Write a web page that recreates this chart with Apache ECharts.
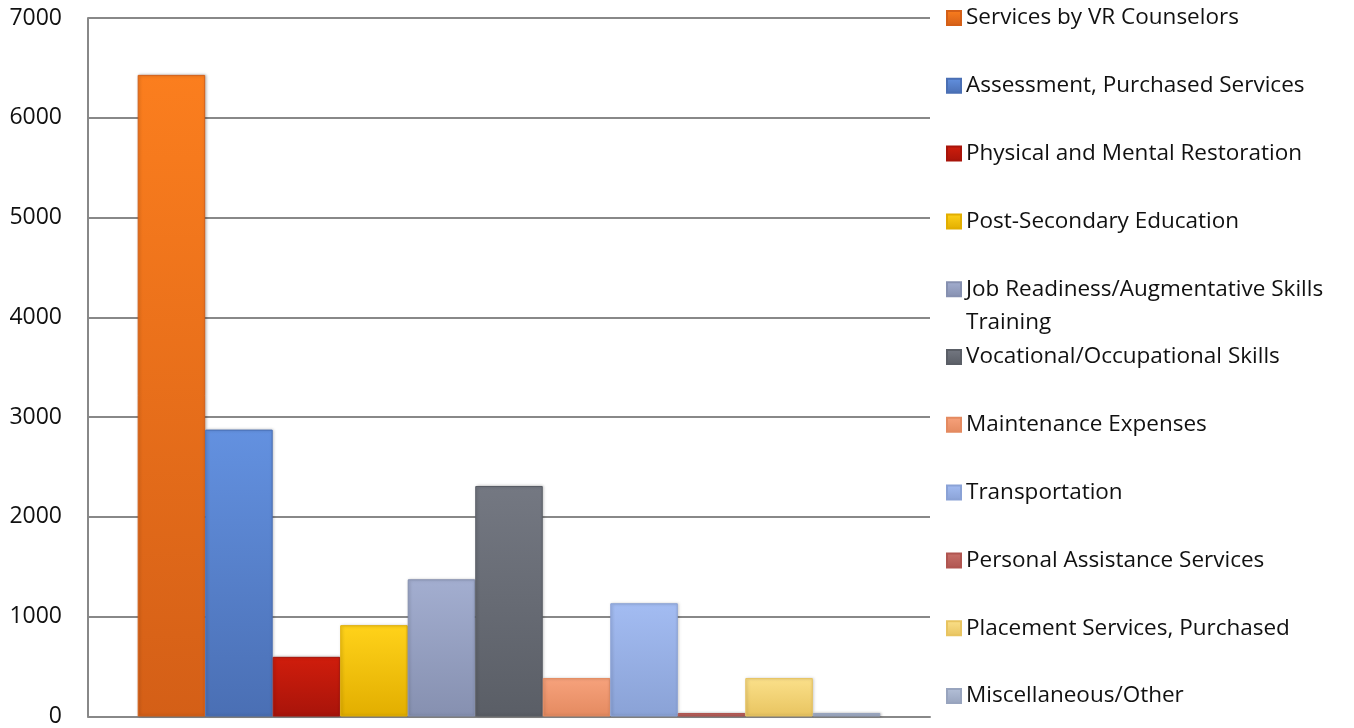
<!DOCTYPE html>
<html>
<head>
<meta charset="utf-8">
<script src="https://cdn.jsdelivr.net/npm/echarts@6/dist/echarts.min.js"></script>
<style>
  html, body { margin: 0; padding: 0; background: #fff; }
  #main { width: 1354px; height: 728px; }
</style>
</head>
<body>
<div id="main"></div>
<script>
// data
var seriesNames = [
  'Services by VR Counselors',
  'Assessment, Purchased Services',
  'Physical and Mental Restoration',
  'Post-Secondary Education',
  'Job Readiness/Augmentative Skills\nTraining',
  'Vocational/Occupational Skills',
  'Maintenance Expenses',
  'Transportation',
  'Personal Assistance Services',
  'Placement Services, Purchased',
  'Miscellaneous/Other'
];
var seriesValues = [6430, 2875, 598, 915, 1375, 2310, 385, 1135, 35, 385, 35];
var yTicks = [0, 1000, 2000, 3000, 4000, 5000, 6000, 7000];

// top / bottom colours of each bar (gradient)
var topColors = ['#FB7E1E', '#6391E0', '#D01D0C', '#FFD21A', '#A3AED0', '#747882', '#F7A27C', '#A3BCF2', '#C8706A', '#FBE08A', '#B4C0D8'];
var botColors = ['#D45F17', '#4A6FB4', '#A8140A', '#E2AE00', '#8690B0', '#5A5E66', '#E48A60', '#8AA2D6', '#B05550', '#E8C460', '#98A4BE'];

var fontFamily = '"Open Sans", Lato, sans-serif';

var chart = echarts.init(document.getElementById('main'));

var series = seriesNames.map(function (name, i) {
  return {
    name: name,
    type: 'bar',
    data: [seriesValues[i]],
    barGap: '0%',
    barCategoryGap: '11.8%',
    itemStyle: {
      color: new echarts.graphic.LinearGradient(0, 0, 0, 1, [
        { offset: 0, color: topColors[i] },
        { offset: 1, color: botColors[i] }
      ]),
      borderColor: botColors[i],
      borderWidth: 1,
      shadowColor: 'rgba(0,0,0,0.25)',
      shadowBlur: 3,
      shadowOffsetX: 1
    }
  };
});

// one legend per entry so each sits at the same pitch as the reference
var legends = seriesNames.map(function (name, i) {
  var center = 18 + 67.8 * i;
  var multi = name.indexOf('\n') >= 0;
  return {
    data: [name],
    left: 946,
    // the wrapped entry gets a blank first line so its first real line sits on the icon
    top: multi ? center - 49.5 : center - 12,
    padding: 0,
    icon: 'rect',
    itemWidth: 14,
    itemHeight: 14,
    itemGap: 0,
    selectedMode: false,
    formatter: function (n) { return multi ? ' \n' + n : n; },
    textStyle: {
      fontFamily: fontFamily,
      fontSize: 22.5,
      color: '#111',
      lineHeight: multi ? 33 : 24
    }
  };
});

var option = {
  animation: false,
  grid: { left: 88, top: 18, right: 424, bottom: 11 },
  legend: legends,
  xAxis: {
    type: 'category',
    data: [''],
    axisLine: { lineStyle: { color: '#888', width: 2 } },
    axisTick: { show: false },
    axisLabel: { show: false }
  },
  yAxis: {
    type: 'value',
    min: yTicks[0],
    max: yTicks[yTicks.length - 1],
    interval: 1000,
    axisLine: { show: true, lineStyle: { color: '#888', width: 2 } },
    axisTick: { show: false },
    splitLine: { lineStyle: { color: '#888', width: 2 } },
    axisLabel: {
      margin: 26,
      fontFamily: fontFamily,
      fontSize: 23,
      color: '#111',
      formatter: function (v) { return String(v); }
    }
  },
  series: series
};

chart.setOption(option);
</script>
</body>
</html>
